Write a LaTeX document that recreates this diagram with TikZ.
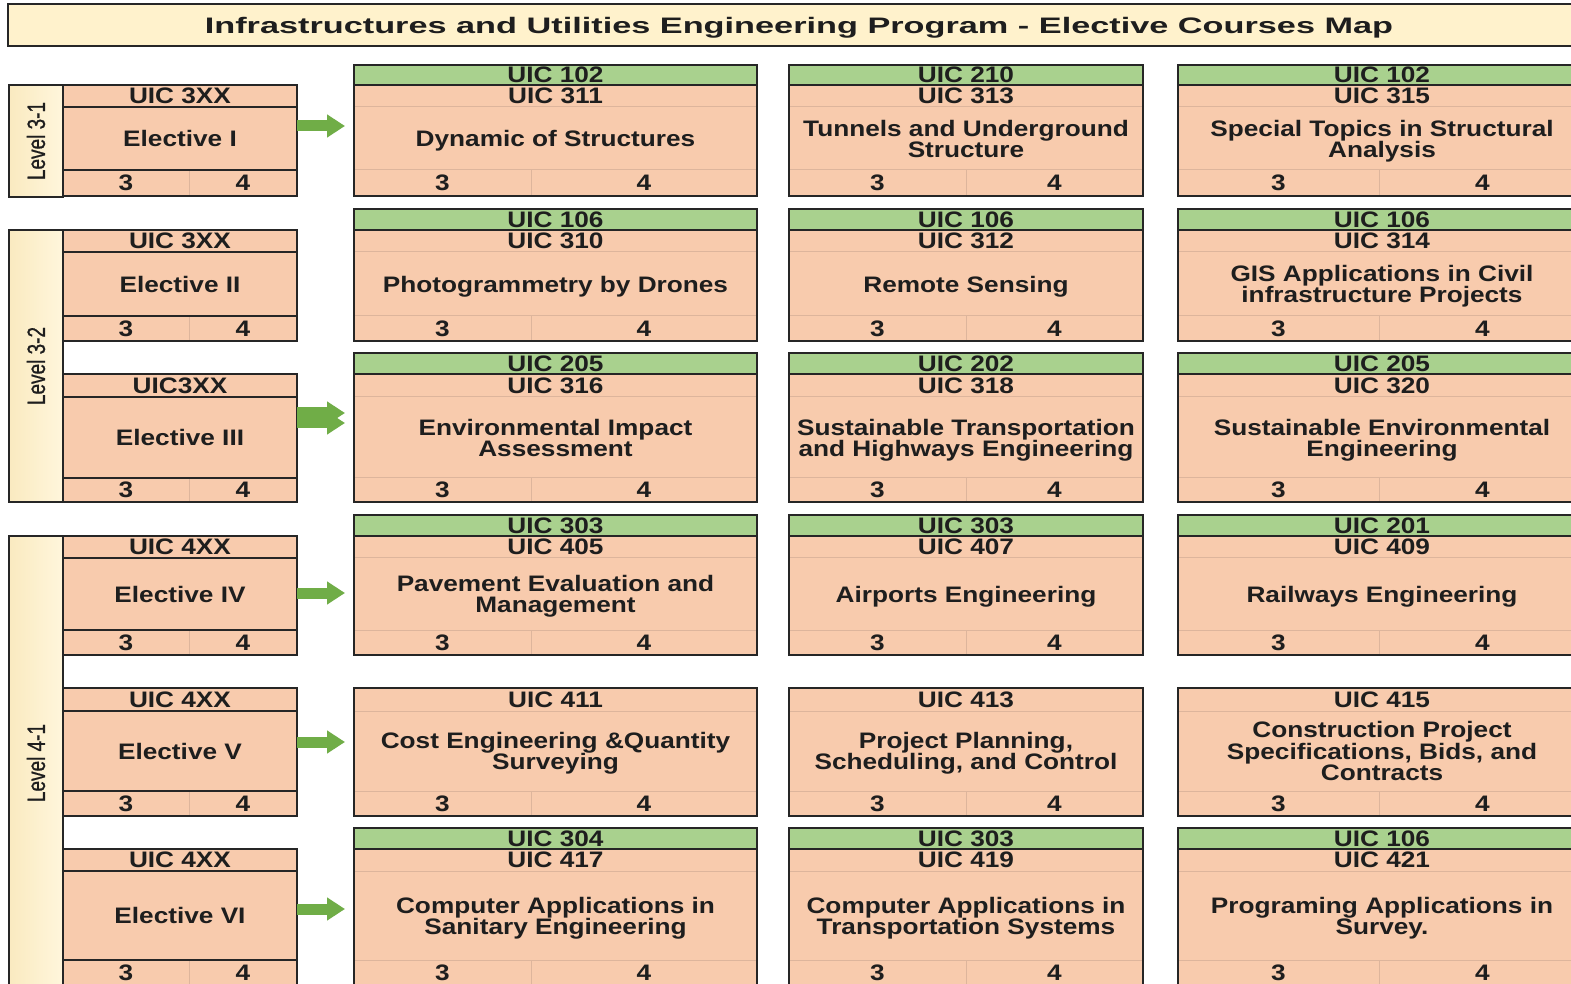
\documentclass[tikz,border=0pt]{standalone}
\usepackage{fontspec}
\usepackage{graphicx}
\setmainfont{Liberation Sans}
\newfontface\cellfont[FakeStretch=1.17]{Liberation Sans Bold}
\newfontface\headfont[FakeStretch=1.53]{Liberation Sans Bold}
\newfontface\levelfont[FakeStretch=0.76,FakeBold=0.8]{Liberation Sans}
\usetikzlibrary{arrows.meta}

\definecolor{salmon}{HTML}{F8CBAD}
\definecolor{pregreen}{HTML}{A9D18E}
\definecolor{titlefill}{HTML}{FFF2CC}
\definecolor{arrowgreen}{HTML}{70AD47}
\definecolor{edge}{HTML}{262626}
\definecolor{seam}{HTML}{DDB59C}
\definecolor{ink}{HTML}{1E1E1E}
\definecolor{lvlL}{HTML}{FAEAC0}
\definecolor{lvlR}{HTML}{FFF6DC}

\tikzset{
  cell/.style={rectangle, inner sep=0pt, outer sep=0pt, align=center, text=ink,
    text depth=0pt, font={\cellfont\fontsize{11.2pt}{10.6pt}\selectfont}},
  peach/.style={cell, fill=salmon},
  pre/.style={cell, fill=pregreen, draw=edge, line width=1pt},
  thin/.style={draw=seam, line width=0.5pt},
  frame/.style={draw=edge, line width=1pt},
  garrow/.style={draw=arrowgreen, line width=5.5pt,
    -{Triangle[length=9pt,width=11pt]}, shorten >=4.5pt},
  lvl/.style={rectangle, inner sep=0pt, outer sep=0pt, draw=edge, line width=1pt,
    left color=lvlL, right color=lvlR, text=ink,
    font={\levelfont\fontsize{12.5pt}{14pt}\selectfont}},
  banner/.style={rectangle, inner sep=0pt, outer sep=0pt, draw=edge, line width=1pt,
    fill=titlefill, text=ink, text depth=0pt,
    font={\headfont\fontsize{11.2pt}{13pt}\selectfont}},
}

% a rectangular cell given by its corners (pixel grid)
\newcommand\boxcell[7]{%
  \node[#6, minimum width={(#4-#2)*0.5pt}, minimum height={(#5-#3)*0.5pt}]
    (#1) at ({(#2+#4)/2},{(#3+#5)/2}) {#7};}

% column edges: left, credit split, right
\newcommand\defcol[4]{%
  \expandafter\def\csname colL#1\endcsname{#2}%
  \expandafter\def\csname colS#1\endcsname{#3}%
  \expandafter\def\csname colR#1\endcsname{#4}}
% row edges: prerequisite top, code top, title top, credits top, bottom
\newcommand\defrow[6]{%
  \expandafter\def\csname rowG#1\endcsname{#2}%
  \expandafter\def\csname rowH#1\endcsname{#3}%
  \expandafter\def\csname rowM#1\endcsname{#4}%
  \expandafter\def\csname rowB#1\endcsname{#5}%
  \expandafter\def\csname rowE#1\endcsname{#6}}

\newcommand\fetchrow[1]{%
  \edef\rgG{\csname rowG#1\endcsname}\edef\rgH{\csname rowH#1\endcsname}%
  \edef\rgM{\csname rowM#1\endcsname}\edef\rgB{\csname rowB#1\endcsname}%
  \edef\rgE{\csname rowE#1\endcsname}}

% course box: id, column, row, prerequisite, code, title
\newcommand\course[6]{%
  \edef\cgL{\csname colL#2\endcsname}\edef\cgS{\csname colS#2\endcsname}%
  \edef\cgR{\csname colR#2\endcsname}\fetchrow{#3}%
  \boxcell{#1c}{\cgL}{\rgH}{\cgR}{\rgM}{peach,thin}{#5}
  \boxcell{#1}{\cgL}{\rgM}{\cgR}{\rgB}{peach,thin}{#6}
  \boxcell{#1a}{\cgL}{\rgB}{\cgS}{\rgE}{peach,thin}{3}
  \boxcell{#1b}{\cgS}{\rgB}{\cgR}{\rgE}{peach,thin}{4}
  \draw[frame] (#1c.north west) rectangle (#1b.south east);
  \ifx\relax#4\relax\else
    \boxcell{#1p}{\cgL}{\rgG}{\cgR}{\rgH}{pre}{#4}
  \fi}

% elective box: id, row, code, title
\newcommand\elective[4]{%
  \fetchrow{#2}%
  \boxcell{#1h}{63}{\rgH}{297}{\rgM}{peach}{#3}
  \boxcell{#1}{63}{\rgM}{297}{\rgB}{peach}{#4}
  \boxcell{#1a}{63}{\rgB}{189}{\rgE}{peach,thin}{3}
  \boxcell{#1b}{189}{\rgB}{297}{\rgE}{peach,thin}{4}
  \draw[frame] (#1h.north west) rectangle (#1b.south east);
  \draw[frame] (#1h.south west) -- (#1h.south east);
  \draw[frame] (#1.south west) -- (#1.south east);}

\defcol{A}{354}{531}{757}
\defcol{B}{789}{966}{1143}
\defcol{C}{1178}{1379}{1586}

\defrow{1}{65}{85}{107}{170}{196}
\defrow{2}{209}{230}{252}{316}{341}
\defrow{3}{353}{374}{397}{478}{502}
\defrow{4}{515}{536}{558}{630}{655}
\defrow{5}{666}{688}{711}{791}{816}
\defrow{6}{828}{849}{871}{960}{985}

\begin{document}
\begin{tikzpicture}[x=0.5pt, y=-0.5pt]
  \clip (0,0) rectangle (1571,984);
  \fill[white] (0,0) rectangle (1571,984);

  % heading bar
  \boxcell{title}{8}{4}{1590}{46}{banner}{Infrastructures and Utilities Engineering Program - Elective Courses Map}

  % level bands
  \boxcell{L31}{9}{85}{63}{197}{lvl}{\rotatebox{90}{Level 3-1}}
  \boxcell{L32}{9}{230}{63}{502}{lvl}{\rotatebox{90}{Level 3-2}}
  \boxcell{L41}{9}{536}{63}{990}{lvl}{\rotatebox{90}{Level 4-1}}

  % elective slots
  \elective{e1}{1}{UIC 3XX}{Elective I}
  \elective{e2}{2}{UIC 3XX}{Elective II}
  \elective{e3}{3}{UIC3XX}{Elective III}
  \elective{e4}{4}{UIC 4XX}{Elective IV}
  \elective{e5}{5}{UIC 4XX}{Elective V}
  \elective{e6}{6}{UIC 4XX}{Elective VI}

  % course options
  \course{c1A}{A}{1}{UIC 102}{UIC 311}{Dynamic of Structures}
  \course{c1B}{B}{1}{UIC 210}{UIC 313}{Tunnels and Underground\\Structure}
  \course{c1C}{C}{1}{UIC 102}{UIC 315}{Special Topics in Structural\\Analysis}

  \course{c2A}{A}{2}{UIC 106}{UIC 310}{Photogrammetry by Drones}
  \course{c2B}{B}{2}{UIC 106}{UIC 312}{Remote Sensing}
  \course{c2C}{C}{2}{UIC 106}{UIC 314}{GIS Applications in Civil\\infrastructure Projects}

  \course{c3A}{A}{3}{UIC 205}{UIC 316}{Environmental Impact\\Assessment}
  \course{c3B}{B}{3}{UIC 202}{UIC 318}{Sustainable Transportation\\and Highways Engineering}
  \course{c3C}{C}{3}{UIC 205}{UIC 320}{Sustainable Environmental\\Engineering}

  \course{c4A}{A}{4}{UIC 303}{UIC 405}{Pavement Evaluation and\\Management}
  \course{c4B}{B}{4}{UIC 303}{UIC 407}{Airports Engineering}
  \course{c4C}{C}{4}{UIC 201}{UIC 409}{Railways Engineering}

  \course{c5A}{A}{5}{}{UIC 411}{Cost Engineering \&Quantity\\Surveying}
  \course{c5B}{B}{5}{}{UIC 413}{Project Planning,\\Scheduling, and Control}
  \course{c5C}{C}{5}{}{UIC 415}{Construction Project\\Specifications, Bids, and\\Contracts}

  \course{c6A}{A}{6}{UIC 304}{UIC 417}{Computer Applications in\\Sanitary Engineering}
  \course{c6B}{B}{6}{UIC 303}{UIC 419}{Computer Applications in\\Transportation Systems}
  \course{c6C}{C}{6}{UIC 106}{UIC 421}{Programing Applications in\\Survey.}

  % block arrows from each elective slot to its options
  \draw[garrow] (e1.east |- 0,126) -- (c1A.west |- 0,126);
  \draw[garrow] (e3.east |- 0,423) -- (c3A.west |- 0,423);
  \draw[garrow] (e3.east |- 0,413) -- (c3A.west |- 0,413);
  \draw[garrow] (e4.east |- 0,593) -- (c4A.west |- 0,593);
  \draw[garrow] (e5.east |- 0,742) -- (c5A.west |- 0,742);
  \draw[garrow] (e6.east |- 0,909) -- (c6A.west |- 0,909);
\end{tikzpicture}
\end{document}
